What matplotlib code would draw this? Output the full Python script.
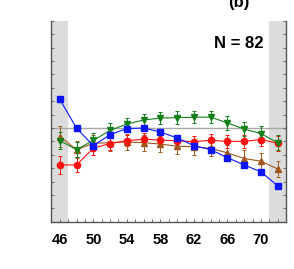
import numpy as np
import matplotlib
matplotlib.use('Agg')
import matplotlib.pyplot as plt
from matplotlib.ticker import MultipleLocator, NullFormatter

plt.rcParams['font.family'] = ['Liberation Sans', 'DejaVu Sans']

# data
ages = [46, 48, 50, 52, 54, 56, 58, 60, 62, 64, 66, 68, 70, 72]

blue = [1.07, -0.01, -0.66, -0.25, -0.02, 0.0, -0.15, -0.37, -0.66, -0.81, -1.11, -1.38, -1.64, -2.16]
blue_err = [0.08] * 14

green = [-0.47, -0.81, -0.46, -0.09, 0.15, 0.30, 0.37, 0.39, 0.40, 0.41, 0.19, -0.04, -0.21, -0.55]
green_err = [0.32, 0.28, 0.28, 0.26, 0.24, 0.24, 0.23, 0.23, 0.23, 0.24, 0.26, 0.27, 0.27, 0.28]

red = [-1.38, -1.38, -0.75, -0.58, -0.47, -0.42, -0.45, -0.48, -0.51, -0.46, -0.50, -0.50, -0.43, -0.57]
red_err = [0.34, 0.28, 0.25, 0.23, 0.22, 0.22, 0.22, 0.22, 0.22, 0.22, 0.23, 0.24, 0.25, 0.28]

brown = [-0.32, -0.81, -0.57, -0.55, -0.52, -0.55, -0.60, -0.68, -0.70, -0.76, -0.93, -1.14, -1.24, -1.53]
brown_err = [0.38, 0.32, 0.30, 0.30, 0.30, 0.30, 0.30, 0.30, 0.30, 0.30, 0.30, 0.30, 0.30, 0.30]

fig = plt.figure(figsize=(2.94, 2.69), dpi=100)
ax = fig.add_axes([0.175, 0.176, 0.798, 0.746])

# shaded edge bins
ax.axvspan(45, 47, color='#dcdcdc', zorder=0, lw=0)
ax.axvspan(71, 73, color='#dcdcdc', zorder=0, lw=0)
ax.axhline(0, color='#a8a8a8', lw=1.0, zorder=1)

series = [
    (brown, brown_err, '#a0561a', '^'),
    (red, red_err, '#ff1010', 'o'),
    (green, green_err, '#13801a', 'v'),
    (blue, blue_err, '#0a14ff', 's'),
]
for vals, err, col, mk in series:
    ax.errorbar(ages, vals, yerr=err, color=col, marker=mk, ms=4.5, lw=0.8,
                elinewidth=0.7, capsize=1.5, capthick=0.7, zorder=3)

ax.set_xlim(45, 73)
ax.set_ylim(-3.5, 4.0)
ax.set_xticks([46, 50, 54, 58, 62, 66, 70])
ax.xaxis.set_minor_locator(MultipleLocator(1))
ax.yaxis.set_major_locator(MultipleLocator(1))
ax.yaxis.set_minor_locator(MultipleLocator(0.5))
ax.yaxis.set_major_formatter(NullFormatter())
ax.tick_params(axis='both', which='both', direction='in', right=True, length=2.5, width=0.6, color='#555555')
ax.tick_params(axis='x', which='major', labelsize=10.5, pad=8)
for lab in ax.get_xticklabels():
    lab.set_fontweight('bold')

ax.spines['top'].set_visible(False)
for s in ['left', 'right', 'bottom']:
    ax.spines[s].set_color('#555555')
    ax.spines[s].set_linewidth(1.0)

fig.text(239 / 294, 1 - 2 / 269, '(b)', ha='center', va='center', fontsize=12, fontweight='bold')
fig.text(239 / 294, 1 - 43 / 269, 'N = 82', ha='center', va='center', fontsize=12, fontweight='bold')

fig.savefig('out.png', dpi=100)
